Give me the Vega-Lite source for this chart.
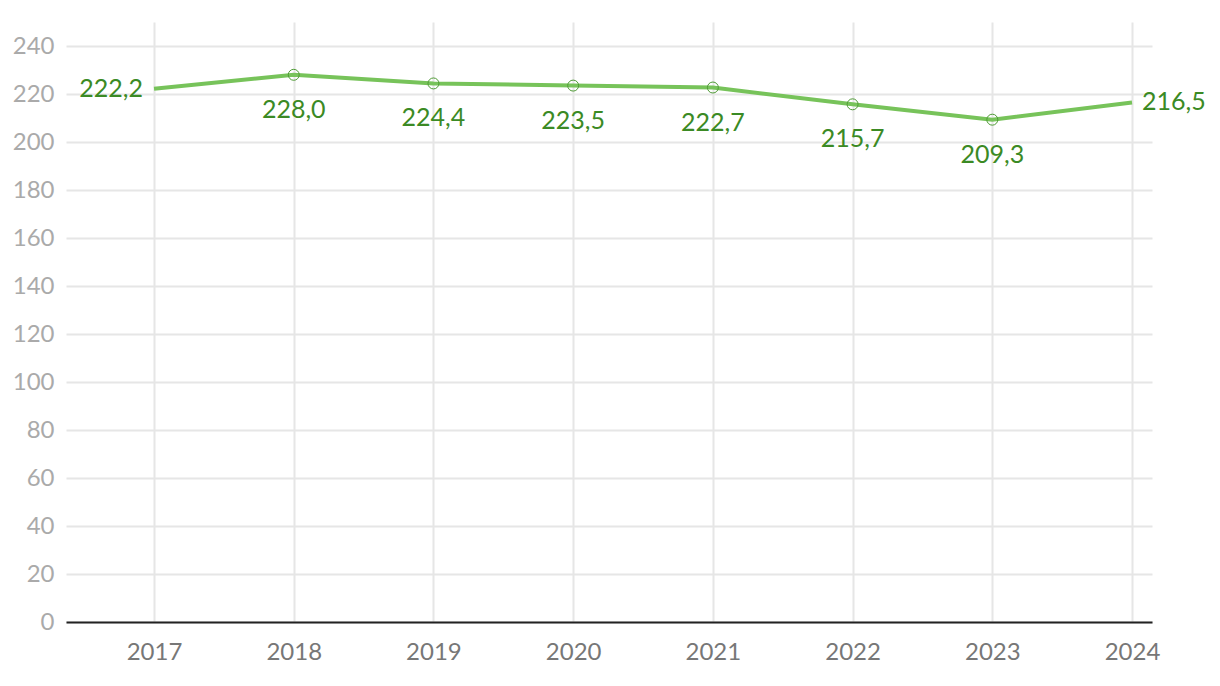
{
  "$schema": "https://vega.github.io/schema/vega-lite/v6.json",
  "autosize": "none",
  "width": 1086,
  "height": 600,
  "padding": {"left": 66, "top": 22, "right": 68, "bottom": 64},
  "background": "white",
  "config": {"view": {"stroke": null}, "font": "Lato",
    "locale": {"number": {"decimal": ",", "thousands": ".", "grouping": [3], "currency": ["", " €"]}}},
  "data": {"values": [
    {"year": 2017, "value": 222.2},
    {"year": 2018, "value": 228.0},
    {"year": 2019, "value": 224.4},
    {"year": 2020, "value": 223.5},
    {"year": 2021, "value": 222.7},
    {"year": 2022, "value": 215.7},
    {"year": 2023, "value": 209.3},
    {"year": 2024, "value": 216.5}
  ]},
  "encoding": {
    "x": {"field": "year", "type": "quantitative",
      "scale": {"domain": [2016.37, 2024.143], "nice": false, "zero": false},
      "axis": {"values": [2017, 2018, 2019, 2020, 2021, 2022, 2023, 2024], "format": "d", "title": null,
        "domainColor": "#222", "domainWidth": 2, "ticks": false, "labelPadding": 18,
        "labelFontSize": 24, "labelColor": "#777", "labelFont": "Lato",
        "gridColor": "#e6e6e6", "gridWidth": 2, "labelFlush": false}},
    "y": {"field": "value", "type": "quantitative",
      "scale": {"domain": [0, 250], "nice": false},
      "axis": {"values": [0, 20, 40, 60, 80, 100, 120, 140, 160, 180, 200, 220, 240], "title": null,
        "domain": false, "ticks": false, "labelPadding": 12, "labelFontSize": 24, "labelColor": "#aaa",
        "gridColor": "#e6e6e6", "gridWidth": 2, "labelFont": "Lato"}}
  },
  "layer": [
    {"mark": {"type": "line", "color": "#77c35a", "strokeWidth": 4}},
    {"transform": [{"filter": "datum.year > 2017 && datum.year < 2024"}],
     "mark": {"type": "point", "shape": "circle", "size": 120, "filled": false, "stroke": "#4e9a34", "strokeWidth": 1, "opacity": 1}},
    {"transform": [{"filter": "datum.year > 2017 && datum.year < 2024"}],
     "mark": {"type": "text", "dy": 35, "fontSize": 25, "color": "#3b8a24", "align": "center", "baseline": "middle"},
     "encoding": {"text": {"field": "value", "type": "quantitative", "format": ".1f"}}},
    {"transform": [{"filter": "datum.year == 2017"}],
     "mark": {"type": "text", "dx": -11, "fontSize": 25, "color": "#3b8a24", "align": "right", "baseline": "middle"},
     "encoding": {"text": {"field": "value", "type": "quantitative", "format": ".1f"}}},
    {"transform": [{"filter": "datum.year == 2024"}],
     "mark": {"type": "text", "dx": 10, "fontSize": 25, "color": "#3b8a24", "align": "left", "baseline": "middle"},
     "encoding": {"text": {"field": "value", "type": "quantitative", "format": ".1f"}}}
  ]
}
